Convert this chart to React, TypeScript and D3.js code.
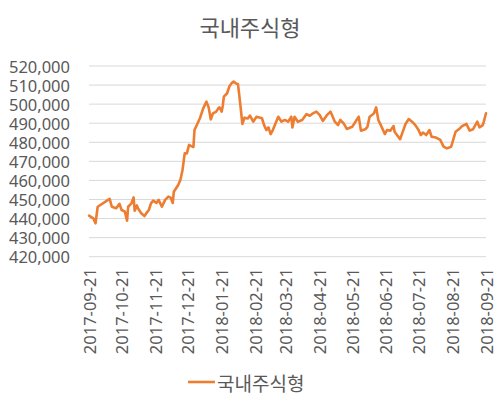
import { useEffect, useRef } from 'react';
import * as d3 from 'd3';

const title = '국내주식형';
const seriesName = '국내주식형';
const startDate = '2017-09-21';

// days after 2017-09-21
const dayOffsets = [
  0, 4, 6, 8, 19, 21, 25, 28, 30, 33, 35, 36, 39, 41, 42, 44, 45, 48, 51, 53,
  55, 57, 59, 62, 64, 67, 70, 73, 75, 77, 78, 82, 84, 86, 88, 90, 92, 94, 96, 97,
  102, 105, 108, 110, 112, 114, 117, 119, 120, 122, 123, 124, 127, 129, 131, 133, 135, 137, 139, 141,
  143, 146, 148, 151, 154, 159, 161, 163, 165, 167, 169, 174, 177, 180, 183, 186, 187, 189, 192, 196,
  200, 203, 206, 209, 212, 215, 219, 222, 226, 229, 231, 234, 237, 242, 246, 248, 250, 254, 256, 258,
  261, 262, 264, 266, 269, 272, 274, 277, 280, 281, 286, 289, 291, 294, 297, 300, 303, 305, 307, 310,
  313, 315, 319, 323, 326, 329, 333, 337, 340, 343, 347, 350, 353, 357, 359, 362, 363, 365,
];

const values = [
  441500, 440100, 437500, 446200, 450300, 446200, 445400, 447700, 444500, 443600, 438900, 446200, 448000, 451100, 444100, 446900, 445400, 442800, 441300, 443000,
  444500, 448000, 449400, 448200, 449800, 446200, 449800, 451500, 451000, 448200, 454100, 457600, 460200, 465500, 474200, 474200, 478600, 478000, 477500, 486400,
  492600, 497800, 501300, 498300, 492000, 495200, 496100, 497900, 498300, 496100, 499200, 503900, 505700, 509200, 510900, 511800, 510900, 510400, 500400, 489600,
  492900, 492500, 494000, 490800, 493400, 492600, 489000, 486400, 487800, 484300, 486400, 493400, 490800, 491700, 490800, 493400, 487800, 493400, 490800, 491700,
  494800, 493900, 495200, 496100, 494400, 491200, 494400, 496100, 490800, 489000, 491700, 490000, 487000, 488100, 491700, 493400, 486100, 486800, 488100, 493400,
  494700, 495200, 498300, 491700, 488100, 484300, 486400, 486100, 488500, 485500, 481600, 486400, 489600, 492200, 490800, 489000, 486400, 483800, 485100, 483800,
  486400, 482900, 482500, 481200, 477700, 476800, 477700, 485500, 486800, 488500, 489600, 486100, 486800, 490800, 487800, 489000, 490800, 495200,
];

const yTicks = [420000, 430000, 440000, 450000, 460000, 470000, 480000, 490000, 500000, 510000, 520000];
const xTickLabels = [
  '2017-09-21', '2017-10-21', '2017-11-21', '2017-12-21', '2018-01-21', '2018-02-21', '2018-03-21',
  '2018-04-21', '2018-05-21', '2018-06-21', '2018-07-21', '2018-08-21', '2018-09-21',
];

const W = 500;
const H = 404;
const TEXT = '#595959';
const LINE = '#ED7D31';
const FONT = '"Noto Sans", "Noto Sans CJK KR", sans-serif';

export default function App() {
  const svgRef = useRef<SVGSVGElement>(null);

  useEffect(() => {
    if (!svgRef.current) return;
    const svg = d3.select(svgRef.current);
    svg.selectAll('*').remove();

    const parse = d3.timeParse('%Y-%m-%d');
    const t0 = parse(startDate) as Date;
    const data = dayOffsets.map((d, i) => ({ date: d3.timeDay.offset(t0, d), value: values[i] }));

    const left = 89;
    const right = 486;
    const top = 66;
    const bottom = 256.7;

    const x = d3.scaleTime()
      .domain([t0, parse(xTickLabels[xTickLabels.length - 1]) as Date])
      .range([left, right]);
    const y = d3.scaleLinear().domain([420000, 520000]).range([bottom, top]);

    // Title
    svg.append('text')
      .attr('x', W / 2)
      .attr('y', 26)
      .attr('text-anchor', 'middle')
      .attr('dominant-baseline', 'central')
      .style('font-family', '"Noto Sans CJK KR", sans-serif')
      .style('font-size', '22px')
      .style('fill', TEXT)
      .text(title);

    // Grid lines
    svg.append('g')
      .selectAll('line')
      .data(yTicks)
      .enter().append('line')
      .attr('x1', left)
      .attr('x2', right)
      .attr('y1', d => y(d))
      .attr('y2', d => y(d))
      .attr('stroke', '#D9D9D9')
      .attr('stroke-width', 1);

    // Y labels
    const fmt = d3.format(',');
    svg.append('g')
      .selectAll('text')
      .data(yTicks)
      .enter().append('text')
      .attr('x', 70)
      .attr('y', d => y(d))
      .attr('text-anchor', 'end')
      .attr('dominant-baseline', 'central')
      .style('font-family', FONT)
      .style('font-size', '16.5px')
      .style('fill', TEXT)
      .text(d => fmt(d));

    // X labels
    svg.append('g')
      .selectAll('text')
      .data(xTickLabels)
      .enter().append('text')
      .attr('transform', d => `translate(${x(parse(d) as Date)},268) rotate(-90)`)
      .attr('text-anchor', 'end')
      .attr('dominant-baseline', 'central')
      .style('font-family', FONT)
      .style('font-size', '16.5px')
      .style('fill', TEXT)
      .text(d => d);

    // Line
    const line = d3.line<{ date: Date; value: number }>()
      .x(d => x(d.date))
      .y(d => y(d.value));

    svg.append('path')
      .datum(data)
      .attr('d', line)
      .attr('fill', 'none')
      .attr('stroke', LINE)
      .attr('stroke-width', 2.6)
      .attr('stroke-linejoin', 'round')
      .attr('stroke-linecap', 'round');

    // Legend
    svg.append('line')
      .attr('x1', 188)
      .attr('x2', 215)
      .attr('y1', 382)
      .attr('y2', 382)
      .attr('stroke', LINE)
      .attr('stroke-width', 2.6);

    svg.append('text')
      .attr('x', 217)
      .attr('y', 382)
      .attr('dominant-baseline', 'central')
      .style('font-family', '"Noto Sans CJK KR", sans-serif')
      .style('font-size', '19px')
      .style('fill', TEXT)
      .text(seriesName);
  }, []);

  return (
    <svg
      ref={svgRef}
      width={W}
      height={H}
      style={{ position: 'absolute', left: 0, top: 0, background: '#fff' }}
    />
  );
}
